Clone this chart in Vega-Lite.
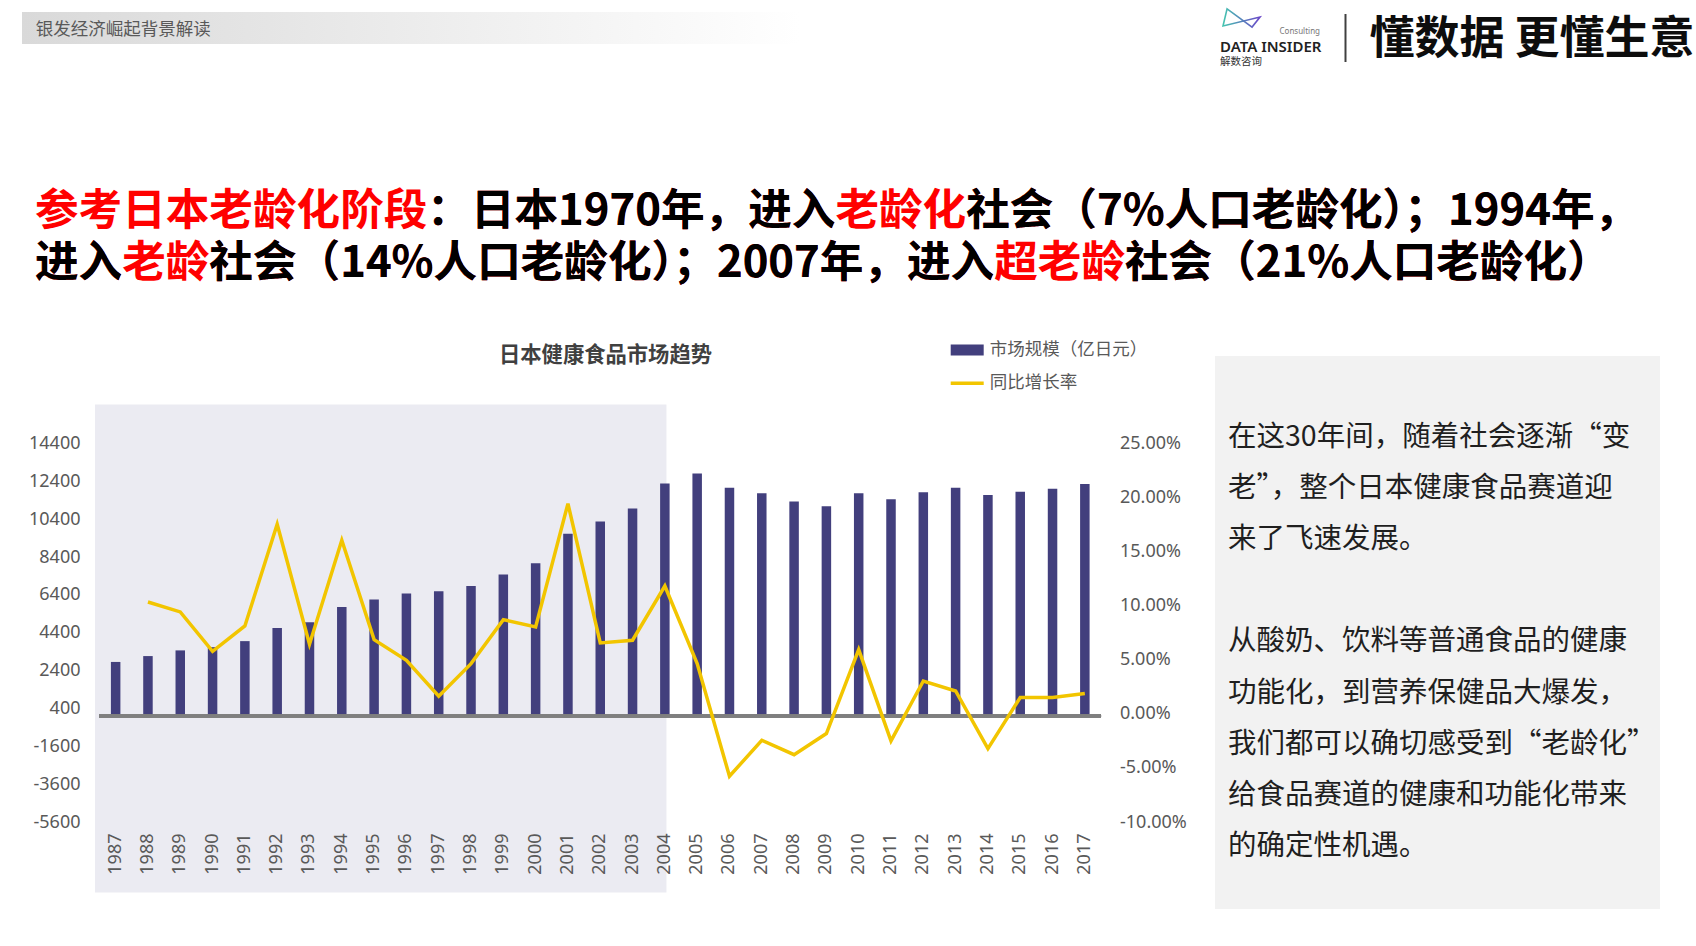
{
  "$schema": "https://vega.github.io/schema/vega-lite/v6.json",
  "width": 1696,
  "height": 946,
  "autosize": {"type": "none"},
  "padding": 0,
  "background": "#FFFFFF",
  "config": {
    "font": "Noto Sans CJK SC",
    "view": {"stroke": null},
    "axis": {"labelFont": "Noto Sans", "labelFontSize": 18, "labelColor": "#595959", "ticks": false, "domain": false, "grid": false, "title": null},
    "legend": {"labelFont": "Noto Sans CJK SC", "labelFontSize": 17.5, "labelColor": "#595959"}
  },
  "layer": [
    {
      "data": {"values": [{"part": "deco"}]},
      "encoding": {
        "x": {"datum": 0, "scale": {"domain": [0, 1], "nice": false, "zero": false}, "axis": null},
        "y": {"datum": 0, "scale": {"domain": [0, 1], "nice": false, "zero": false, "reverse": true}, "axis": null}
      },
      "layer": [
        {
          "mark": {"type": "rect", "color": {"gradient": "linear", "x1": 0, "y1": 0, "x2": 1, "y2": 0, "stops": [{"offset": 0, "color": "#D9D9D9"}, {"offset": 1, "color": "#FFFFFF"}]}},
          "encoding": {"x": {"datum": 0.012972}, "x2": {"datum": 0.471698}, "y": {"datum": 0.012685}, "y2": {"datum": 0.046512}}
        },
        {
          "mark": {"type": "text", "align": "left", "baseline": "middle", "fontSize": 17.5, "color": "#595959", "text": "银发经济崛起背景解读"},
          "encoding": {"x": {"datum": 0.02105}, "y": {"datum": 0.031712}}
        },
        {
          "mark": {"type": "point", "shape": "M-0.78,-0.49L0.57,0.49L1,-0.05L-1,0.43Z", "size": 1369, "filled": false, "strokeWidth": 1.6, "opacity": 1, "stroke": {"gradient": "linear", "x1": 0, "y1": 0, "x2": 1, "y2": 0, "stops": [{"offset": 0, "color": "#45C4B0"}, {"offset": 1, "color": "#6A47C8"}]}},
          "encoding": {"x": {"datum": 0.732017}, "y": {"datum": 0.019027}}
        },
        {
          "mark": {"type": "text", "align": "right", "baseline": "middle", "fontSize": 8, "font": "Noto Sans", "color": "#777777", "text": "Consulting"},
          "encoding": {"x": {"datum": 0.778302}, "y": {"datum": 0.034}}
        },
        {
          "mark": {"type": "text", "align": "left", "baseline": "middle", "fontSize": 15, "fontWeight": 600, "font": "Noto Sans", "color": "#222222", "text": "DATA INSIDER"},
          "encoding": {"x": {"datum": 0.71934}, "y": {"datum": 0.049683}}
        },
        {
          "mark": {"type": "text", "align": "left", "baseline": "middle", "fontSize": 10.5, "color": "#333333", "text": "解数咨询"},
          "encoding": {"x": {"datum": 0.71934}, "y": {"datum": 0.0655}}
        },
        {
          "mark": {"type": "rule", "color": "#404040", "strokeWidth": 2},
          "encoding": {"x": {"datum": 0.793337}, "y": {"datum": 0.014799}, "y2": {"datum": 0.065539}}
        },
        {
          "mark": {"type": "text", "align": "center", "baseline": "middle", "fontSize": 45, "fontWeight": "bold", "color": "#0D0D0D", "text": "懂数据 更懂生意"},
          "encoding": {"x": {"datum": 0.903302}, "y": {"datum": 0.042283}}
        },
        {
          "mark": {"type": "text", "align": "center", "baseline": "middle", "fontSize": 21.3, "fontWeight": "bold", "color": "#404040", "text": "日本健康食品市场趋势"},
          "encoding": {"x": {"datum": 0.357017}, "y": {"datum": 0.376004}}
        },
        {
          "mark": {"type": "rect", "color": "#F2F2F2"},
          "encoding": {"x": {"datum": 0.716392}, "x2": {"datum": 0.978774}, "y": {"datum": 0.376321}, "y2": {"datum": 0.960888}}
        }
      ]
    },
    {
      "data": {
        "values": [
          {"line": 1, "full": "参考日本老龄化阶段：日本1970年，进入老龄化社会（7%人口老龄化）；1994年，", "plain": "​　　　　　　　　　：日本1970年，进入　　　社会（7%人口老龄化）；1994年，"},
          {"line": 2, "full": "进入老龄社会（14%人口老龄化）；2007年，进入超老龄社会（21%人口老龄化）", "plain": "进入　　社会（14%人口老龄化）；2007年，进入　　　社会（21%人口老龄化）"}
        ]
      },
      "encoding": {
        "x": {"datum": 0, "scale": {"domain": [0, 1], "range": [35, 1731], "nice": false, "zero": false}, "axis": null},
        "y": {"field": "line", "type": "ordinal", "axis": null, "scale": {"type": "point", "domain": [1, 2], "range": [212, 263.5], "padding": 0}}
      },
      "layer": [
        {"mark": {"type": "text", "align": "left", "baseline": "middle", "fontSize": 43.6, "fontWeight": "bold", "color": "#FF0000"}, "encoding": {"text": {"field": "full"}}},
        {"mark": {"type": "text", "align": "left", "baseline": "middle", "fontSize": 43.6, "fontWeight": "bold", "color": "#000000"}, "encoding": {"text": {"field": "plain"}}}
      ]
    },
    {
      "data": {
        "values": [
          {"line": 1, "t": "在这30年间，随着社会逐渐“变"},
          {"line": 2, "t": "老”，整个日本健康食品赛道迎"},
          {"line": 3, "t": "来了飞速发展。"},
          {"line": 5, "t": "从酸奶、饮料等普通食品的健康"},
          {"line": 6, "t": "功能化，到营养保健品大爆发，"},
          {"line": 7, "t": "我们都可以确切感受到“老龄化”"},
          {"line": 8, "t": "给食品赛道的健康和功能化带来"},
          {"line": 9, "t": "的确定性机遇。"}
        ]
      },
      "mark": {"type": "text", "align": "left", "baseline": "middle", "fontSize": 28.5, "color": "#1F1F1F"},
      "encoding": {
        "x": {"datum": 0, "scale": {"domain": [0, 1], "range": [1228, 2924], "nice": false, "zero": false}, "axis": null},
        "y": {"field": "line", "type": "ordinal", "axis": null, "scale": {"type": "point", "domain": [1, 2, 3, 4, 5, 6, 7, 8, 9], "range": [437, 845.8], "padding": 0}},
        "text": {"field": "t"}
      }
    },
    {
      "data": {
        "values": [
          {"year": "1987", "market": 2860, "growth": null},
          {"year": "1988", "market": 3170, "growth": 10.35},
          {"year": "1989", "market": 3470, "growth": 9.43},
          {"year": "1990", "market": 3640, "growth": 5.79},
          {"year": "1991", "market": 3960, "growth": 8.13},
          {"year": "1992", "market": 4660, "growth": 17.54},
          {"year": "1993", "market": 4960, "growth": 6.44},
          {"year": "1994", "market": 5770, "growth": 16.06},
          {"year": "1995", "market": 6160, "growth": 6.87},
          {"year": "1996", "market": 6480, "growth": 4.96},
          {"year": "1997", "market": 6590, "growth": 1.63},
          {"year": "1998", "market": 6870, "growth": 4.65},
          {"year": "1999", "market": 7480, "growth": 8.72},
          {"year": "2000", "market": 8070, "growth": 8.04},
          {"year": "2001", "market": 9630, "growth": 19.45},
          {"year": "2002", "market": 10280, "growth": 6.56},
          {"year": "2003", "market": 10970, "growth": 6.81},
          {"year": "2004", "market": 12290, "growth": 11.83},
          {"year": "2005", "market": 12820, "growth": 4.65},
          {"year": "2006", "market": 12060, "growth": -5.77},
          {"year": "2007", "market": 11780, "growth": -2.44},
          {"year": "2008", "market": 11340, "growth": -3.77},
          {"year": "2009", "market": 11090, "growth": -1.82},
          {"year": "2010", "market": 11780, "growth": 5.95},
          {"year": "2011", "market": 11460, "growth": -2.5},
          {"year": "2012", "market": 11830, "growth": 3.04},
          {"year": "2013", "market": 12060, "growth": 2.12},
          {"year": "2014", "market": 11680, "growth": -3.21},
          {"year": "2015", "market": 11850, "growth": 1.51},
          {"year": "2016", "market": 12010, "growth": 1.51},
          {"year": "2017", "market": 12260, "growth": 1.88}
        ]
      },
      "layer": [
        {
          "layer": [
            {
              "data": {"values": [{"start": "1987", "end": "2004"}]},
              "mark": {"type": "rect", "color": "#EBEBF2", "xOffset": -20.66, "x2Offset": 1.6},
              "encoding": {
                "x": {"field": "start", "type": "ordinal"},
                "x2": {"field": "end"},
                "y": {"datum": 16460},
                "y2": {"datum": -9330}
              }
            },
            {
              "mark": {"type": "bar", "color": "#423F7D"},
              "encoding": {
                "x": {"field": "year", "type": "ordinal", "scale": {"range": [99.5, 1101], "paddingInner": 0.706, "paddingOuter": 0.353}, "axis": {"title": null, "orient": "bottom", "offset": -124, "labelAngle": -90, "labelPadding": 11, "labelFontSize": 18}},
                "y": {"field": "market", "type": "quantitative", "scale": {"domain": [-5600, 14400], "range": [822, 443.6], "nice": false, "zero": false}, "axis": {"title": null, "orient": "left", "offset": -99.5, "values": [-5600, -3600, -1600, 400, 2400, 4400, 6400, 8400, 10400, 12400, 14400], "labelExpr": "'' + datum.value", "labelPadding": 19.5}},
                "color": {
                  "datum": "市场规模（亿日元）",
                  "scale": {"domain": ["市场规模（亿日元）", "同比增长率"], "range": ["#423F7D", "#F2C500"]},
                  "legend": {
                    "title": null,
                    "orient": "none",
                    "legendX": 950.7,
                    "legendY": 333.5,
                    "padding": 0,
                    "labelOffset": 6,
                    "rowPadding": 8.3,
                    "symbolSize": 1089,
                    "encode": {
                      "symbols": {
                        "update": {
                          "shape": {"signal": "datum.value === '同比增长率' ? 'M-1,-0.11H1V0.11H-1Z' : 'M-1,-0.33H1V0.33H-1Z'"},
                          "fill": {"scale": "color", "field": "value"},
                          "strokeWidth": {"value": 0}
                        }
                      }
                    }
                  }
                }
              }
            },
            {
              "mark": {"type": "rule", "color": "#7F7F7F", "strokeWidth": 2.5, "xOffset": -16.16, "x2Offset": 16.16},
              "encoding": {"x": {"datum": "1987", "type": "ordinal"}, "x2": {"datum": "2017"}, "y": {"datum": 0}}
            }
          ]
        },
        {
          "mark": {"type": "line", "strokeWidth": 3.5, "strokeJoin": "miter"},
          "encoding": {
            "x": {"field": "year", "type": "ordinal"},
            "y": {"field": "growth", "type": "quantitative", "scale": {"domain": [-10, 25], "range": [822, 443.6], "nice": false, "zero": false}, "axis": {"title": null, "orient": "right", "offset": -595, "values": [-10, -5, 0, 5, 10, 15, 20, 25], "labelExpr": "replace(format(datum.value, '.2f'), '−', '-') + '%'", "labelPadding": 18.5}},
            "color": {"datum": "同比增长率"}
          }
        }
      ],
      "resolve": {"scale": {"y": "independent"}}
    }
  ],
  "resolve": {"scale": {"x": "independent", "y": "independent"}}
}
